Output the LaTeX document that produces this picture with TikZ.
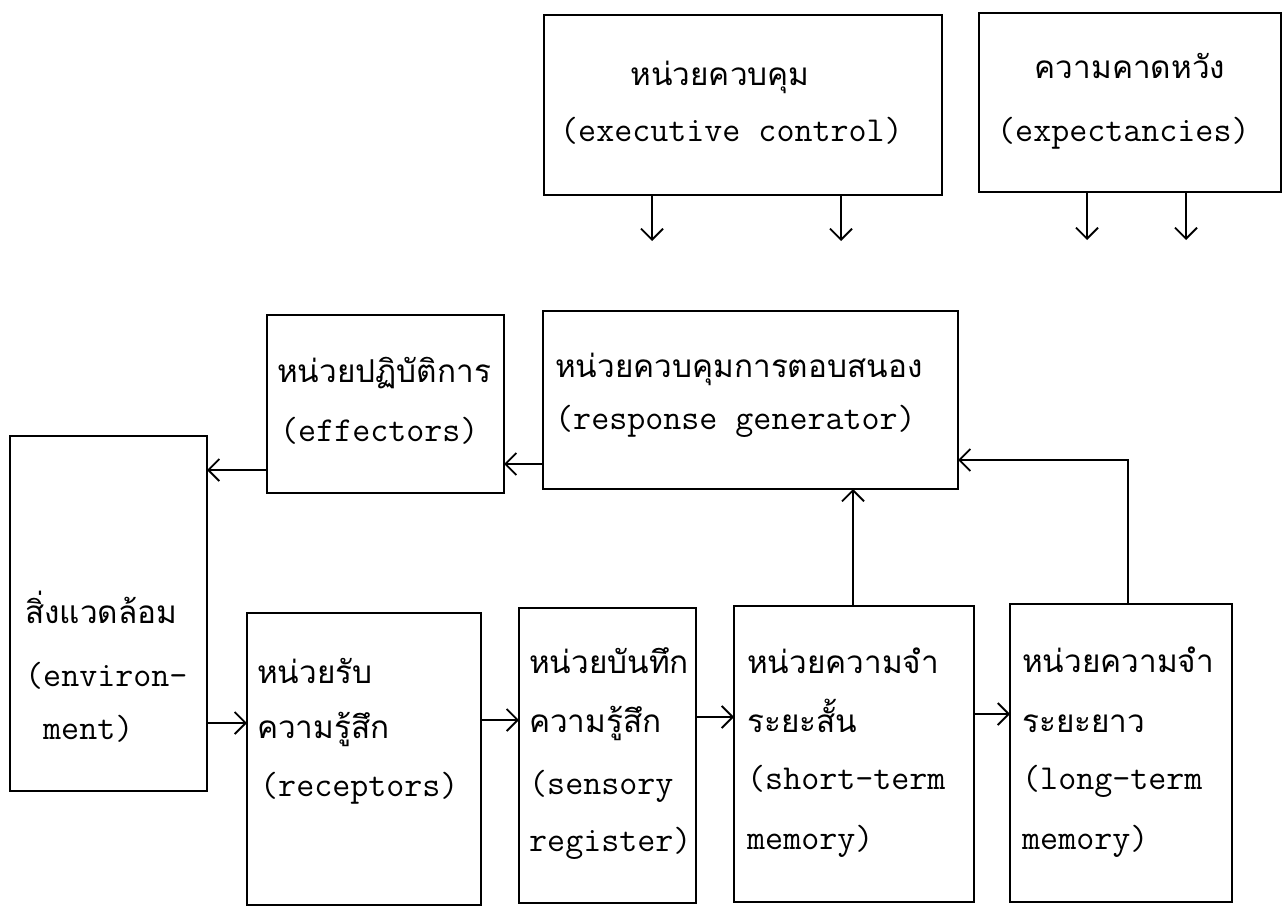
\documentclass[tikz,border=0pt]{standalone}
\usepackage{fontspec}
\newfontfamily\thai[Script=Thai]{Loma}
\usetikzlibrary{arrows.meta}
\newcommand\mkbox[5]{\node[box, minimum width={(#4-#2)*1pt}, minimum height={(#5-#3)*1pt}] (#1) at ({(#2+#4)/2},{(#3+#5)/2}) {};}
\begin{document}
\begin{tikzpicture}[x=1pt,y=-1pt,
  box/.style={draw, line width=2pt, inner sep=0pt, outer sep=0pt},
  en/.style={font=\ttfamily\fontsize{35}{40}\selectfont, inner sep=0pt, anchor=mid west, yshift=-4pt},
  th/.style={font=\thai\fontsize{31.5}{38}\selectfont, inner sep=0pt, anchor=mid west, yshift=-3pt},
  conn/.style={line width=1.8pt, -{Straight Barb[length=11pt,width=22pt]}}]
\useasboundingbox (0,0) rectangle (1284,907);
\fill[white] (0,0) rectangle (1284,907);

% boxes: name, left, top, right, bottom
\mkbox{exec}{544}{15}{942}{195}
\mkbox{expect}{979}{13}{1281}{192}
\mkbox{eff}{267}{315}{504}{493}
\mkbox{resp}{543}{311}{958}{489}
\mkbox{env}{10}{436}{207}{791}
\mkbox{rec}{247}{613}{481}{905}
\mkbox{sens}{519}{608}{696}{903}
\mkbox{stm}{734}{606}{974}{902}
\mkbox{ltm}{1010}{604}{1232}{902}

% texts
\node[th, anchor=mid] (exec1) at (720,80) {หน่วยควบคุม};
\node[en] (exec2) at (560,135) {(executive control)};
\node[th, anchor=mid] (exp1) at (1130,73) {ความคาดหวัง};
\node[en] (exp2) at (997,135) {(expectancies)};
\node[th] (eff1) at (277,377) {หน่วยปฏิบัติการ};
\node[en] (eff2) at (280,435) {(effectors)};
\node[th] (resp1) at (555,372) {หน่วยควบคุมการตอบสนอง};
\node[en] (resp2) at (555,423) {(response generator)};
\node[th] (env1) at (25,618) {สิ่งแวดล้อม};
\node[en] (env2) at (25,680) {(environ-};
\node[en] (env3) at (43,733) {ment)};
\node[th] (rec1) at (257,678) {หน่วยรับ};
\node[th] (rec2) at (257,733) {ความรู้สึก};
\node[en] (rec3) at (260,790) {(receptors)};
\node[th] (sens1) at (529,668) {หน่วยบันทึก};
\node[th] (sens2) at (529,727) {ความรู้สึก};
\node[en] (sens3) at (529,788) {(sensory};
\node[en] (sens4) at (529,845) {register)};
\node[th] (stm1) at (747,668) {หน่วยความจำ};
\node[th] (stm2) at (747,727) {ระยะสั้น};
\node[en] (stm3) at (747,783) {(short-term};
\node[en] (stm4) at (747,843) {memory)};
\node[th] (ltm1) at (1022,667) {หน่วยความจำ};
\node[th] (ltm2) at (1022,727) {ระยะยาว};
\node[en] (ltm3) at (1022,783) {(long-term};
\node[en] (ltm4) at (1022,843) {memory)};

% helper coordinates
\coordinate (a1) at (652,241);
\coordinate (a2) at (841,241);
\coordinate (a3) at (1087,240);
\coordinate (a4) at (1186,240);
\coordinate (y464) at (0,464);
\coordinate (y470) at (0,470);
\coordinate (y723) at (0,723);
\coordinate (y720) at (0,720);
\coordinate (y717) at (0,717);
\coordinate (y714) at (0,714);
\coordinate (y460) at (0,460);
\coordinate (x853) at (853,0);
\coordinate (x1128) at (1128,0);

% connectors
\draw[conn] (exec.south -| a1) -- (a1);
\draw[conn] (exec.south -| a2) -- (a2);
\draw[conn] (expect.south -| a3) -- (a3);
\draw[conn] (expect.south -| a4) -- (a4);
\draw[conn] (resp.west |- y464) -- (eff.east |- y464);
\draw[conn] (eff.west |- y470) -- (env.east |- y470);
\draw[conn] (env.east |- y723) -- (rec.west |- y723);
\draw[conn] (rec.east |- y720) -- (sens.west |- y720);
\draw[conn] (sens.east |- y717) -- (stm.west |- y717);
\draw[conn] (stm.east |- y714) -- (ltm.west |- y714);
\draw[conn] (stm.north -| x853) -- (resp.south -| x853);
\draw[conn] (ltm.north -| x1128) |- (resp.east |- y460);
\end{tikzpicture}
\end{document}
